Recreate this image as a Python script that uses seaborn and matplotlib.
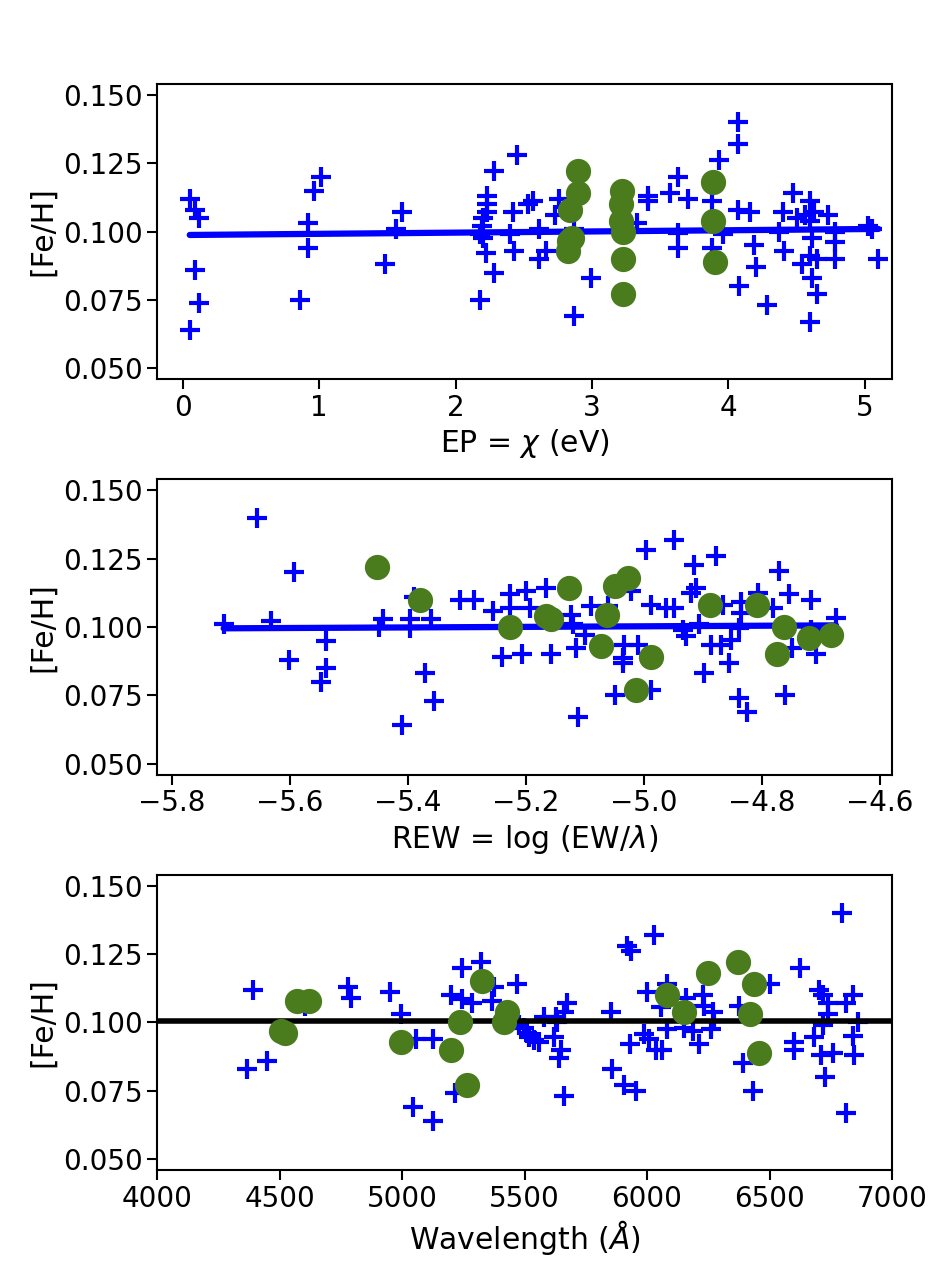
import numpy as np
import pandas as pd
import matplotlib
matplotlib.use("Agg")
import matplotlib.pyplot as plt
import seaborn as sns

# Fe I lines: excitation potential vs abundance (top panel)
fe1_ep = [0.05, 0.09, 0.12, 0.09, 0.115, 0.05,
          1.015, 0.96, 0.92, 0.92, 0.86,
          1.61, 1.56, 1.485,
          2.28, 2.45, 2.23, 2.23, 2.23, 2.20, 2.19, 2.18, 2.20, 2.22, 2.28, 2.18,
          2.42, 2.40, 2.43, 2.53,
          2.57, 2.61, 2.61, 2.66, 2.73, 2.76, 2.87, 2.87, 2.99, 3.33, 3.41, 3.41,
          3.57, 3.63, 3.70, 3.63, 3.63, 3.88, 3.88, 3.93, 4.07, 4.07, 3.96, 4.07,
          4.16, 4.19, 4.20, 4.08, 4.28, 4.37, 4.40, 4.41, 4.47, 4.50, 4.56, 4.60,
          4.60, 4.61, 4.63, 4.73, 4.78, 4.78, 4.78, 4.60, 4.54, 4.65, 4.61, 4.65,
          4.60, 5.02, 5.10, 5.05]
fe1_ep_ab = [0.112, 0.108, 0.105, 0.086, 0.074, 0.064,
             0.120, 0.115, 0.103, 0.094, 0.075,
             0.107, 0.101, 0.088,
             0.122, 0.128, 0.113, 0.110, 0.107, 0.105, 0.102, 0.099, 0.0975, 0.092, 0.085, 0.075,
             0.107, 0.099, 0.093, 0.110,
             0.111, 0.101, 0.090, 0.093, 0.106, 0.112, 0.069, 0.101, 0.083, 0.103, 0.113, 0.111,
             0.114, 0.120, 0.112, 0.0995, 0.094, 0.111, 0.094, 0.126, 0.140, 0.132, 0.099, 0.108,
             0.107, 0.095, 0.087, 0.080, 0.073, 0.100, 0.107, 0.093, 0.114, 0.105, 0.106, 0.111,
             0.104, 0.0975, 0.107, 0.106, 0.100, 0.096, 0.090, 0.091, 0.088, 0.090, 0.083, 0.077,
             0.067, 0.102, 0.090, 0.101]

# Fe II lines (top panel)
fe2_ep = [2.90, 2.90, 2.84, 2.85, 2.82, 2.83, 3.22, 3.21, 3.21, 3.23, 3.23, 3.23, 3.89, 3.89, 3.90]
fe2_ep_ab = [0.122, 0.114, 0.108, 0.0975, 0.093, 0.0965, 0.115, 0.110, 0.104, 0.100, 0.090,
             0.077, 0.118, 0.104, 0.089]

# Fe I lines: reduced equivalent width vs abundance (middle panel)
fe1_rew = [-5.712, -5.656, -5.632, -5.593, -5.601, -5.539, -5.539, -5.547,
           -5.442, -5.449, -5.397, -5.397, -5.390, -5.360, -5.370, -5.355, -5.410,
           -5.311, -5.288, -5.256, -5.226, -5.226, -5.200, -5.240, -5.207,
           -5.193, -5.165, -5.157, -5.126, -5.123, -5.120, -5.114, -5.100, -5.089, -5.060,
           -5.111, -5.049, -5.035, -5.035, -5.033, -5.010, -5.021, -4.987, -4.996, -4.987,
           -4.962, -4.948, -4.948, -4.934, -4.928, -4.914, -4.911, -4.920, -4.906, -4.897,
           -4.877, -4.886, -4.869, -4.866, -4.855, -4.852, -4.838, -4.835, -4.835, -4.839,
           -4.825, -4.807, -4.781, -4.770, -4.754, -4.761, -4.748, -4.716, -4.716, -4.708,
           -4.674]
fe1_rew_ab = [0.1012, 0.140, 0.1023, 0.120, 0.088, 0.095, 0.085, 0.080,
              0.103, 0.100, 0.103, 0.0996, 0.111, 0.103, 0.083, 0.073, 0.064,
              0.110, 0.110, 0.106, 0.112, 0.107, 0.113, 0.089, 0.090,
              0.107, 0.1143, 0.090, 0.115, 0.1045, 0.101, 0.0923, 0.097, 0.1076, 0.1076,
              0.067, 0.075, 0.0886, 0.087, 0.0935, 0.0935, 0.113, 0.077, 0.128, 0.108,
              0.107, 0.107, 0.132, 0.099, 0.0966, 0.1226, 0.1143, 0.1125, 0.101, 0.083,
              0.126, 0.0935, 0.0935, 0.108, 0.087, 0.0954, 0.0996, 0.109, 0.105, 0.074,
              0.069, 0.1125, 0.107, 0.1206, 0.1122, 0.075, 0.0923, 0.110, 0.099, 0.090,
              0.1033]

fe2_rew = [-5.452, -5.380, -5.227, -5.165, -5.157, -5.127, -5.063, -5.072, -5.048,
           -5.027, -4.988, -5.013, -4.888, -4.808, -4.763, -4.774, -4.719, -4.683]
fe2_rew_ab = [0.122, 0.110, 0.100, 0.104, 0.103, 0.1143, 0.1045, 0.093, 0.115,
              0.118, 0.089, 0.077, 0.108, 0.108, 0.100, 0.090, 0.096, 0.097]

# Fe I lines: wavelength vs abundance (bottom panel)
fe1_wl = [4391, 4368, 4447, 4602, 4781, 4790, 4951, 4997, 5059, 5128, 5046, 5128, 5215,
          5244, 5324, 5199, 5246, 5287, 5376, 5369, 5469, 5478, 5519,
          5497, 5511, 5538, 5559, 5579, 5627, 5633, 5674, 5661, 5620, 5647, 5640, 5661,
          5852, 5855, 5906, 5954, 5920, 5936, 6029, 5929, 5988, 6008, 6035, 6001, 6083,
          6063, 6083, 6056, 6158, 6151, 6186, 6213, 6227, 6234, 6268, 6261, 6274, 6376,
          6390, 6433, 6503, 6625, 6598, 6598, 6683, 6703, 6717, 6737, 6737, 6717, 6710,
          6757, 6726, 6796, 6839, 6812, 6860, 6839, 6846, 6812]
fe1_wl_ab = [0.112, 0.083, 0.086, 0.106, 0.113, 0.109, 0.111, 0.103, 0.094, 0.094, 0.069,
             0.064, 0.074, 0.120, 0.122, 0.110, 0.1085, 0.107, 0.113, 0.108, 0.114, 0.099,
             0.0947,
             0.098, 0.096, 0.0936, 0.0927, 0.102, 0.102, 0.100, 0.107, 0.104, 0.0945, 0.090,
             0.087, 0.073,
             0.104, 0.083, 0.077, 0.075, 0.128, 0.126, 0.132, 0.092, 0.0957, 0.0939, 0.090,
             0.111, 0.0976, 0.090, 0.114, 0.1055, 0.109, 0.098, 0.097, 0.092, 0.110, 0.106,
             0.104, 0.0976, 0.1006, 0.106, 0.085, 0.075, 0.114, 0.120, 0.093, 0.090, 0.0945,
             0.112, 0.110, 0.107, 0.103, 0.099, 0.088, 0.089, 0.080, 0.140, 0.110, 0.107,
             0.100, 0.095, 0.088, 0.067]

fe2_wl = [4572, 4620, 4508, 4522, 4995, 5237, 5199, 5267, 5326, 5428, 5417,
          6083, 6151, 6249, 6372, 6435, 6419, 6458]
fe2_wl_ab = [0.108, 0.108, 0.097, 0.0963, 0.093, 0.100, 0.090, 0.077, 0.115, 0.104, 0.100,
             0.110, 0.104, 0.118, 0.122, 0.114, 0.103, 0.089]

mean_feh = 0.1004

sns.set_theme(style="ticks", context="talk")
plt.rcParams["font.family"] = ["DejaVu Sans"]
plt.rcParams["xtick.labelsize"] = 20
plt.rcParams["ytick.labelsize"] = 20
plt.rcParams["axes.labelsize"] = 21.5
plt.rcParams["axes.linewidth"] = 1.5
plt.rcParams["xtick.major.size"] = 7
plt.rcParams["ytick.major.size"] = 7
plt.rcParams["xtick.major.width"] = 1.5
plt.rcParams["ytick.major.width"] = 1.5
for key in ["text.color", "axes.labelcolor", "xtick.color", "ytick.color", "axes.edgecolor"]:
    plt.rcParams[key] = "black"

fe1_color = "#0000ff"
fe2_color = "#4a7c1e"

fig, axes = plt.subplots(3, 1, figsize=(9.43, 12.78), dpi=100)
fig.subplots_adjust(left=0.1665, right=0.946, top=0.9343, bottom=0.0845, hspace=0.34)

panels = [
    (fe1_ep, fe1_ep_ab, fe2_ep, fe2_ep_ab, r"EP = $\chi$ (eV)"),
    (fe1_rew, fe1_rew_ab, fe2_rew, fe2_rew_ab, r"REW = log (EW/$\lambda$)"),
    (fe1_wl, fe1_wl_ab, fe2_wl, fe2_wl_ab, r"Wavelength ($\AA$)"),
]

for i, (ax, (x1, y1, x2, y2, xlabel)) in enumerate(zip(axes, panels)):
    df1 = pd.DataFrame({"x": x1, "y": y1})
    df2 = pd.DataFrame({"x": x2, "y": y2})
    sns.scatterplot(data=df1, x="x", y="y", marker="+", s=210, linewidth=3,
                    color=fe1_color, ax=ax, zorder=2)
    if i < 2:
        # linear fit of Fe I abundance against the parameter
        coef = np.polyfit(df1["x"], df1["y"], 1)
        xs = np.array([df1["x"].min(), df1["x"].max()])
        ax.plot(xs, np.polyval(coef, xs), color=fe1_color, lw=4.5, zorder=3)
    else:
        ax.axhline(mean_feh, color="black", lw=4, zorder=3)
    sns.scatterplot(data=df2, x="x", y="y", marker="o", s=330, linewidth=0,
                    color=fe2_color, ax=ax, zorder=4)
    ax.set_ylim(0.0460, 0.1540)
    ax.set_yticks([0.050, 0.075, 0.100, 0.125, 0.150])
    ax.set_ylabel("[Fe/H]")
    ax.set_xlabel(xlabel)

axes[0].set_xlim(-0.19, 5.20)
axes[0].set_xticks([0, 1, 2, 3, 4, 5])
axes[1].set_xlim(-5.825, -4.579)
axes[1].set_xticks([-5.8, -5.6, -5.4, -5.2, -5.0, -4.8, -4.6])
axes[2].set_xlim(4000, 7000)
axes[2].set_xticks([4000, 4500, 5000, 5500, 6000, 6500, 7000])

fig.savefig("out.png", dpi=100)
